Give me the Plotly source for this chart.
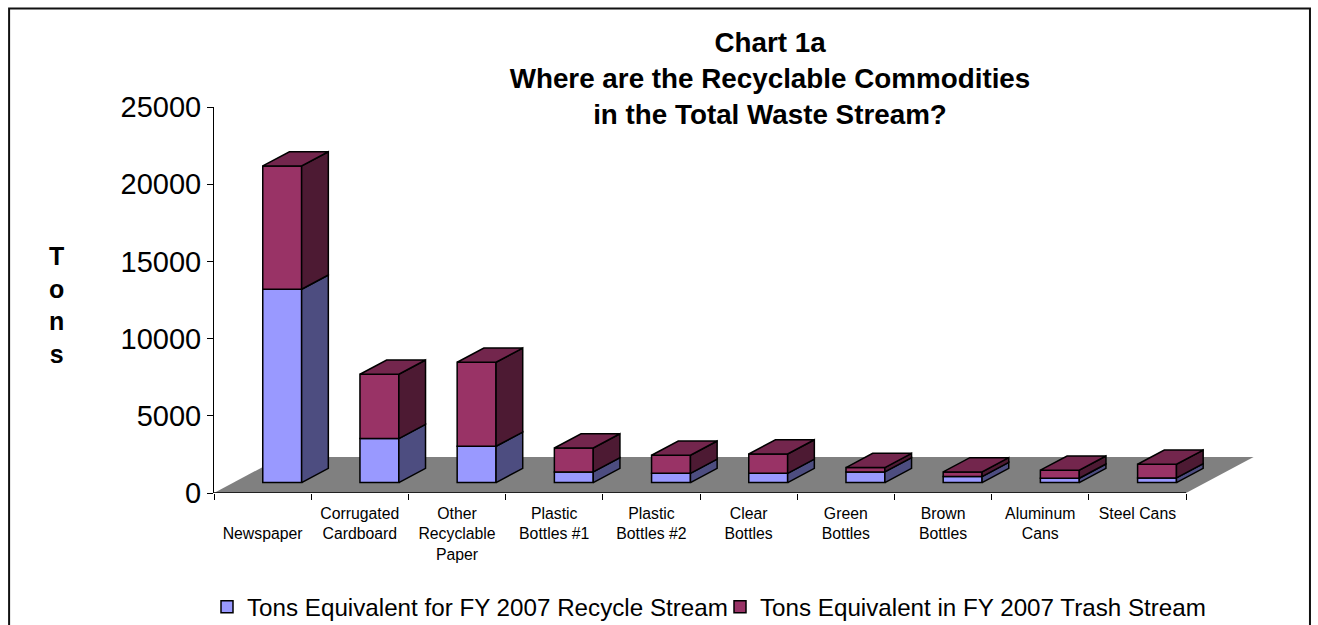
import plotly.graph_objects as go

categories = ["Newspaper", "Corrugated Cardboard", "Other Recyclable Paper", "Plastic Bottles #1",
              "Plastic Bottles #2", "Clear Bottles", "Green Bottles", "Brown Bottles",
              "Aluminum Cans", "Steel Cans"]
tick_labels = [" <br>Newspaper", "Corrugated<br>Cardboard", "Other<br>Recyclable<br>Paper",
               "Plastic<br>Bottles #1", "Plastic<br>Bottles #2", "Clear<br>Bottles",
               "Green<br>Bottles", "Brown<br>Bottles", "Aluminum<br>Cans", "Steel Cans"]
recycle = [12520, 2850, 2350, 690, 600, 600, 690, 390, 280, 300]
trash = [7985, 4165, 5440, 1550, 1170, 1250, 280, 300, 520, 885]
y_ticks = [0, 5000, 10000, 15000, 20000, 25000]

NAME_R = "Tons Equivalent for FY 2007 Recycle Stream"
NAME_T = "Tons Equivalent in FY 2007 Trash Stream"
COL_R, SIDE_R = "#9999FF", "#4D4D80"
COL_T, SIDE_T, TOP_T = "#993366", "#4D1A33", "#73264D"
FONT = "Liberation Sans, Arial, sans-serif"

# pixel geometry of the plot box
W, H = 1318, 625
L, R, T, B = 213.5, 1260, 107, 493
CAT_PX = 97.25
UNIT_PX = (B - T) / 25000
FLOOR_DX, FLOOR_DY = 67.6 / CAT_PX, 36 / UNIT_PX   # whole floor depth, in data units
Z0, Z1 = 0.29, 0.685                              # bar's place in the depth
BAR_W = 0.40

def proj(x, y, z):
    return x + z * FLOOR_DX, y + z * FLOOR_DY

def px(xp): return (xp - L) / (R - L)
def py(yp): return (B - yp) / (B - T)

fig = go.Figure()
line = dict(color="black", width=1.5)
n = len(categories)
lefts = [i + 0.5 - BAR_W / 2 for i in range(n)]
rights = [i + 0.5 + BAR_W / 2 for i in range(n)]

def face(pts, color):
    xs = [p[0] for p in pts] + [pts[0][0]]
    ys = [p[1] for p in pts] + [pts[0][1]]
    fig.add_trace(go.Scatter(x=xs, y=ys, mode="lines", fill="toself", fillcolor=color,
                             line=line, showlegend=False, hoverinfo="skip"))

base_x, base_y = proj(0, 0, Z0)
fig.add_trace(go.Bar(name=NAME_R, x=[i + 0.5 + base_x for i in range(n)], y=recycle,
                     base=[base_y] * n, width=BAR_W,
                     marker=dict(color=COL_R, line=line)))
fig.add_trace(go.Bar(name=NAME_T, x=[i + 0.5 + base_x for i in range(n)], y=trash,
                     base=[base_y + r for r in recycle], width=BAR_W,
                     marker=dict(color=COL_T, line=line)))

for i in range(n):
    r0 = 0
    r1 = recycle[i]
    r2 = recycle[i] + trash[i]
    xr = rights[i]
    xl = lefts[i]
    face([proj(xr, r0, Z0), proj(xr, r0, Z1), proj(xr, r1, Z1), proj(xr, r1, Z0)], SIDE_R)
    face([proj(xr, r1, Z0), proj(xr, r1, Z1), proj(xr, r2, Z1), proj(xr, r2, Z0)], SIDE_T)
    face([proj(xl, r2, Z0), proj(xr, r2, Z0), proj(xr, r2, Z1), proj(xl, r2, Z1)], TOP_T)

fx = [0, n, n + FLOOR_DX, FLOOR_DX]
fy = [0, 0, FLOOR_DY, FLOOR_DY]
floor_path = "M" + " L".join(f"{a},{b}" for a, b in zip(fx, fy)) + " Z"

shapes = [
    dict(type="path", path=floor_path, xref="x", yref="y", layer="below",
         fillcolor="#808080", line=dict(width=0)),
    dict(type="line", x0=0, x1=n, y0=0, y1=0, xref="x", yref="y", layer="above",
         line=dict(color="black", width=1.5)),
    dict(type="path", xref="paper", yref="paper", layer="below",
         path=f"M{px(8.5)},{py(640)} L{px(8.5)},{py(8.5)} L{px(1310)},{py(8.5)} L{px(1310)},{py(640)}",
         line=dict(color="#111111", width=2)),
]

fig.update_layout(
    width=W, height=H, autosize=False, barmode="overlay",
    margin=dict(l=L, r=W - R, t=T, b=H - B, pad=0, autoexpand=False),
    paper_bgcolor="white", plot_bgcolor="rgba(0,0,0,0)",
    font=dict(family=FONT, color="black"),
    shapes=shapes,
    xaxis=dict(range=[0, (R - L) / CAT_PX], tickmode="array",
               tickvals=[i + 0.5 for i in range(n)], ticktext=tick_labels,
               ticks="", ticklabelstandoff=9,
               tickfont=dict(size=15.8, family=FONT), showgrid=False, zeroline=False,
               showline=False,
               minor=dict(tickmode="array", tickvals=list(range(n + 1)), ticks="outside",
                          ticklen=6, tickwidth=1, tickcolor="black", showgrid=False)),
    yaxis=dict(range=[0, 25000], tickmode="array", tickvals=y_ticks,
               ticktext=[str(v) for v in y_ticks],
               ticks="outside", ticklen=6, tickwidth=1, tickcolor="black", showgrid=False,
               zeroline=False, showline=True, linecolor="black", linewidth=1,
               tickfont=dict(size=29, family=FONT)),
    legend=dict(orientation="h", x=207 / W, xanchor="left", xref="container",
                y=1 - 607 / H, yanchor="middle", yref="container",
                font=dict(size=24.2, family=FONT), bgcolor="rgba(0,0,0,0)",
                traceorder="normal", entrywidth=468, entrywidthmode="pixels"),
    title=dict(text="<b>Chart 1a<br>Where are the Recyclable Commodities<br>in the Total Waste Stream?</b>",
               x=770 / W, xref="container", xanchor="center", y=1 - 52 / H, yref="container", yanchor="top",
               font=dict(size=27.8, family=FONT, color="black")),
    annotations=[
        dict(text="<b>T<br>o<br>n<br>s</b>", xref="paper", yref="paper", x=px(56), y=py(305),
             xanchor="center", yanchor="middle", showarrow=False,
             font=dict(size=25, family=FONT, color="black")),
    ],
)

fig.write_html("out.html", config={"displayModeBar": False},
               post_script="document.body.style.margin='0';document.body.style.overflow='hidden';")
